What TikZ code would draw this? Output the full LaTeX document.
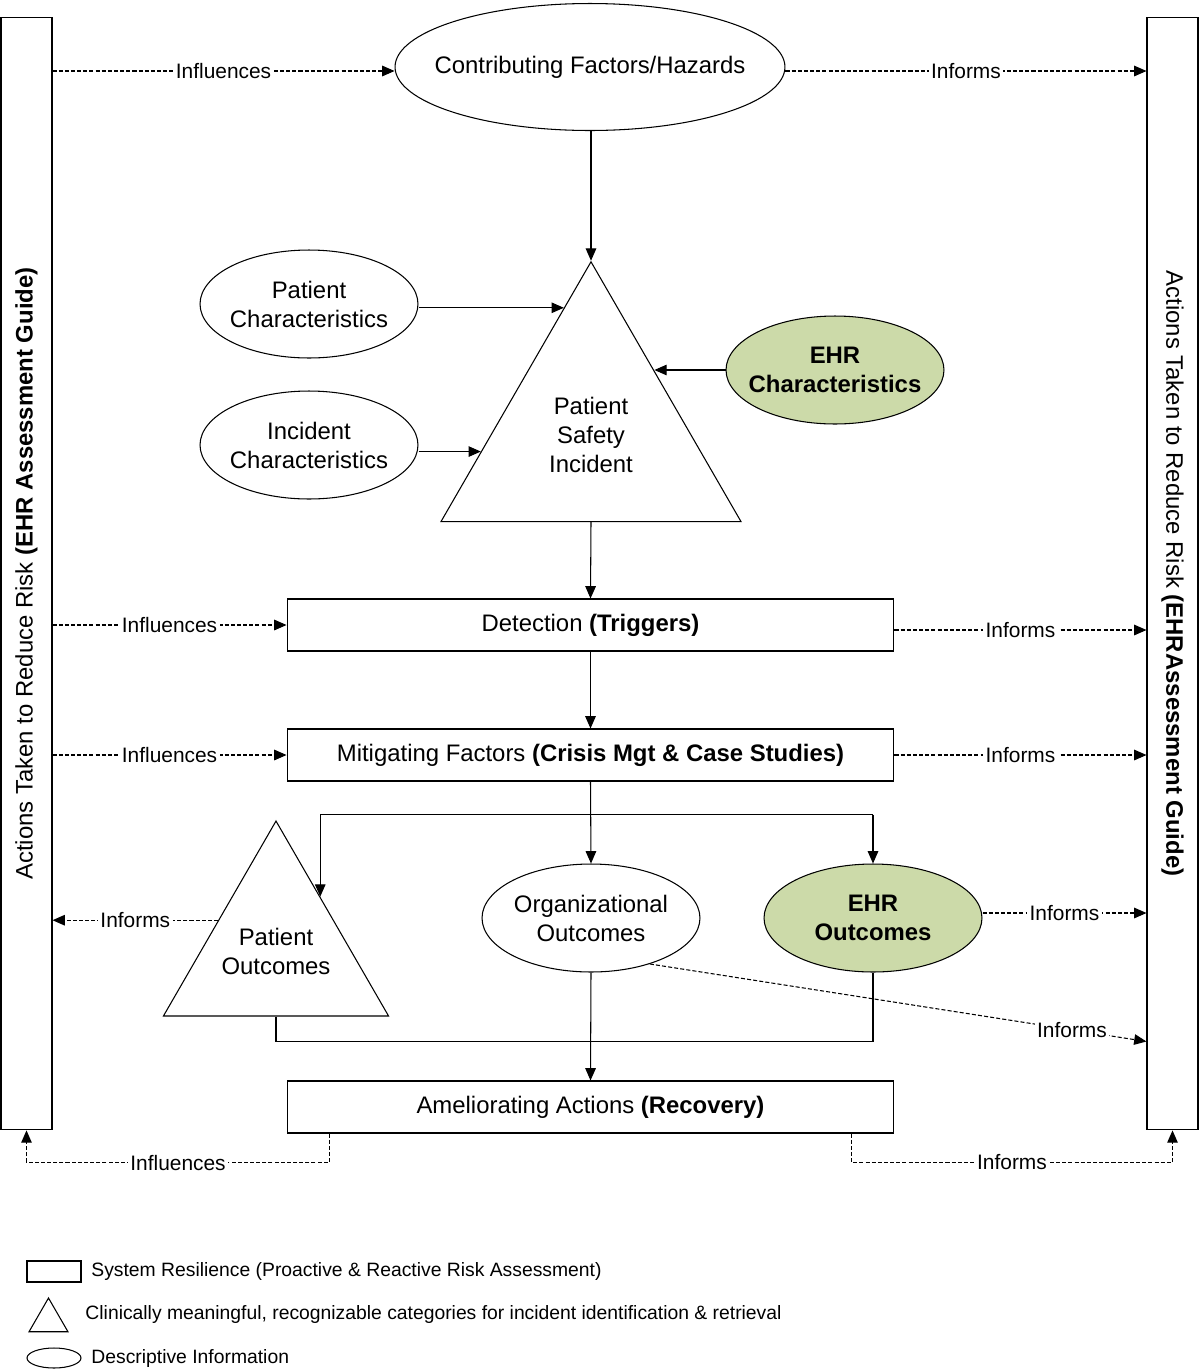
\documentclass[tikz,border=0pt]{standalone}
\usepackage{fontspec}
\setmainfont{Liberation Sans}
\usetikzlibrary{shapes.geometric,arrows.meta,positioning,calc}
\definecolor{ehrgreen}{RGB}{204,218,169}

\begin{document}
\begin{tikzpicture}[x=0.02cm,y=-0.02cm,line width=0.6pt,>={Triangle[length=7pt,width=6pt]}]
\tikzset{font={\fontsize{13.6}{16.5}\selectfont}}
\tikzset{box/.style={draw,rectangle,minimum width=12.14cm,minimum height=1.04cm,inner sep=0pt}}
\tikzset{bar/.style={draw,rectangle,minimum width=1.02cm,minimum height=22.26cm,inner sep=0pt}}
\tikzset{oval/.style={draw,ellipse,minimum width=4.36cm,minimum height=2.16cm,inner sep=0pt}}
\tikzset{ehr/.style={oval,fill=ehrgreen}}
\tikzset{tri/.style={draw,regular polygon,regular polygon sides=3,inner sep=0pt}}
\tikzset{txt/.style={align=center,inner sep=0pt}}
\tikzset{btxt/.style={txt,font={\fontsize{13.6}{16.5}\selectfont\bfseries}}}
\tikzset{flow/.style={->}}
\tikzset{dflow/.style={->,dash pattern=on 2.3pt off 1.2pt}}
\tikzset{lbl/.style={fill=white,inner sep=1.5pt,font={\fontsize{11.9}{14}\selectfont}}}
\tikzset{legend/.style={font={\fontsize{11}{13}\selectfont}}}
\useasboundingbox (0,0) rectangle (1200,1370);

%Side bars
\node[bar] (lbar) at (26.5,573.5) {};
\node[bar] (rbar) at (1172.5,573.5) {};
\node[rotate=90] (ltxt) at (lbar) {Actions Taken to Reduce Risk \textbf{(EHR Assessment Guide)}};
\node[rotate=-90] (rtxt) at (rbar) {Actions Taken to Reduce Risk \textbf{(EHRAssessment Guide)}};

%Incident
\node[draw,ellipse,minimum width=7.8cm,minimum height=2.54cm,inner sep=0pt] (cf) at (590,67) {};
\node[txt] (cftxt) at (cf) {Contributing Factors/Hazards};
\node[tri,minimum size=6.93cm] (psi) at (591,435) {};
\node[txt] (psitxt) at (psi) {Patient\\Safety\\Incident};
\node[oval] (pc) at (309,304) {};
\node[txt] (pctxt) at (pc) {Patient\\Characteristics};
\node[oval] (ic) at (309,445) {};
\node[txt] (ictxt) at (ic) {Incident\\Characteristics};
\node[ehr] (ehrc) at (835,370) {};
\node[btxt] (ehrctxt) at (ehrc) {EHR\\Characteristics};

%Response
\node[box] (det) at (590.5,625) {Detection \textbf{(Triggers)}};
\node[box] (mit) at (590.5,755) {Mitigating Factors \textbf{(Crisis Mgt \& Case Studies)}};
\node[tri,minimum size=5.2cm] (po) at (276,951) {};
\node[txt] (potxt) at (po) {Patient\\Outcomes};
\node[oval] (org) at (591,918) {};
\node[txt] (orgtxt) at (org) {Organizational\\Outcomes};
\node[ehr] (ehro) at (873,918) {};
\node[btxt] (ehrotxt) at (ehro) {EHR\\Outcomes};
\node[box] (am) at (590.5,1107) {Ameliorating Actions \textbf{(Recovery)}};

%Solid flow
\coordinate (pe1) at ($(psi.corner 1)!0.18!(psi.corner 2)$);
\coordinate (pe2) at ($(psi.corner 1)!0.73!(psi.corner 2)$);
\coordinate (pe3) at ($(psi.corner 1)!0.42!(psi.corner 3)$);
\draw[flow] (psi.corner 1 |- cf.south) -- (psi.corner 1);
\draw[flow] (pc.east |- pe1) -- (pe1);
\draw[flow] (ic.east |- pe2) -- (pe2);
\draw[flow] (ehrc.west) -- (pe3 |- ehrc.west);
\draw[flow] (psi.south) -- (det.north);
\draw[flow] (det.south) -- (mit.north);

\coordinate (br) at ($(mit.south)+(0,33)$);
\coordinate (po3) at ($(po.corner 1)!0.39!(po.corner 3)$);
\draw[flow] (mit.south) -- (org.north);
\draw (br -| po3) -- (br -| ehro.north);
\draw[flow] (br -| po3) -- (po3);
\draw[flow] (br -| ehro.north) -- (ehro.north);
\coordinate (mg) at ($(am.north)+(0,-39)$);
\draw (po.south) |- (mg) -| (ehro.south);
\draw[flow] (org.south) -- (am.north);

%Dashed flow
\coordinate (cfl) at ($(cf.west)+(0,4)$);
\coordinate (cfr) at ($(cf.east)+(0,4)$);
\coordinate (detr) at ($(det.east)+(0,5)$);
\coordinate (ehror) at ($(ehro.east)+(0,-5)$);
\draw[dflow] (lbar.east |- cfl) -- (cfl) node[lbl,midway] {Influences};
\draw[dflow] (cfr) -- (cfr -| rbar.west) node[lbl,midway] {Informs};
\draw[dflow] (lbar.east |- det.west) -- (det.west) node[lbl,midway] {Influences};
\draw[dflow] (detr) -- (detr -| rbar.west) node[lbl,midway] {Informs};
\draw[dflow] (lbar.east |- mit.west) -- (mit.west) node[lbl,midway] {Influences};
\draw[dflow] (mit.east) -- (mit.east -| rbar.west) node[lbl,midway] {Informs};
\coordinate (po2) at ($(po.corner 1)!0.51!(po.corner 2)$);
\draw[dflow] (po2) -- (po2 -| lbar.east) node[lbl,midway] {Informs};
\draw[dflow] (ehror) -- (ehror -| rbar.west) node[lbl,midway] {Informs};
\draw[dflow] (org.-38) -- (rbar.west |- mg) node[lbl,pos=0.85] {Informs};
\draw[dflow] ($(am.south west)+(43,0)$) -- ++(0,29) -| (lbar.south) node[lbl,pos=0.25] {Influences};
\draw[dflow] ($(am.south east)+(-43,0)$) -- ++(0,29) -| (rbar.south) node[lbl,pos=0.25] {Informs};

%Legend
\node[draw,minimum width=1.08cm,minimum height=0.42cm,inner sep=0pt] (lgbox) at (54,1271.5) {};
\node[legend,right=0.07cm of lgbox] (lgboxtxt) {System Resilience (Proactive \& Reactive Risk Assessment)};
\node[tri,minimum size=0.9cm] (lgtri) at (48.5,1320.5) {};
\node[legend,right=0.34cm of lgtri,yshift=0.12cm] (lgtritxt) {Clinically meaningful, recognizable categories for incident identification \& retrieval};
\node[draw,ellipse,minimum width=1.08cm,minimum height=0.4cm,inner sep=0pt] (lgoval) at (54,1358) {};
\node[legend,right=0.07cm of lgoval] (lgovaltxt) {Descriptive Information};
\end{tikzpicture}
\end{document}
